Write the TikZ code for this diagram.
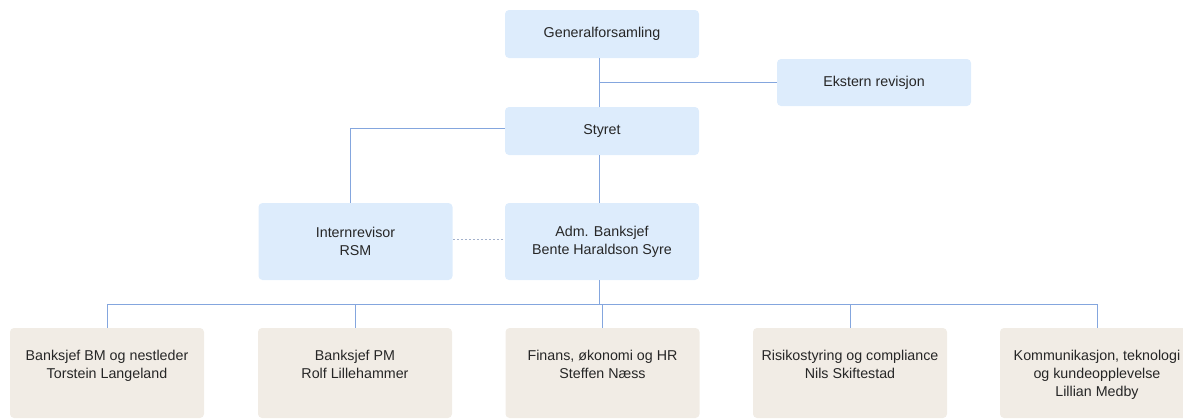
\documentclass[tikz,border=0pt]{standalone}
\usepackage{fontspec}
\setmainfont{Liberation Sans}
\definecolor{boxblue}{HTML}{DDECFC}
\definecolor{boxsand}{HTML}{F1ECE5}
\definecolor{linkblue}{HTML}{84A6DE}
\definecolor{dotgrey}{HTML}{A3B1CB}
\definecolor{txt}{HTML}{262626}
\tikzset{
  upbox/.style={fill=boxblue, rounded corners=3pt, minimum width=145.5pt,
    minimum height=36pt, align=center, inner sep=0pt, text=txt},
  midbox/.style={upbox, minimum height=57.75pt},
  lowbox/.style={fill=boxsand, rounded corners=3pt, minimum width=145.5pt,
    minimum height=67.5pt, inner sep=0pt},
  lowtext/.style={anchor=north, align=center, inner sep=0pt, text=txt},
  link/.style={draw=linkblue, line width=0.75pt},
}
\begin{document}
\begin{tikzpicture}[x=0.75pt, y=-0.75pt, font=\fontsize{10.7}{13.5}\selectfont]
      \clip (0,0) rectangle (1183,419);
      \useasboundingbox (0,0) rectangle (1183,419);
      \draw
        (602,34) node[upbox] (gen){Generalforsamling}
        (874,82.5) node[upbox, minimum height=35.25pt] (ekst){Ekstern revisjon}
        (602,131) node[upbox] (styret){Styret}
        (355.5,241.5) node[midbox] (intern){Internrevisor\\RSM}
        (602,241.5) node[midbox] (adm){Adm. Banksjef\\Bente Haraldson Syre};
      \draw
        (107,373) node[lowbox] (b1){}
        (355,373) node[lowbox] (b2){}
        (602.5,373) node[lowbox] (b3){}
        (850,373) node[lowbox] (b4){}
        (1097,373) node[lowbox] (b5){};
      \draw
        (107,350) node[lowtext] (t1){Banksjef BM og nestleder\\Torstein Langeland}
        (355,350) node[lowtext] (t2){Banksjef PM\\Rolf Lillehammer}
        (602.5,350) node[lowtext] (t3){Finans, økonomi og HR\\Steffen Næss}
        (850,350) node[lowtext] (t4){Risikostyring og compliance\\Nils Skiftestad}
        (1097,350) node[lowtext] (t5){Kommunikasjon, teknologi\\og kundeopplevelse\\Lillian Medby};
      \coordinate (bus) at (599,304);
      \coordinate (gate) at (350,128);
      \begin{scope}[link]
        \draw (gen.south -| bus) to (styret.north -| bus);
        \draw (ekst.west) to (ekst.west -| bus);
        \draw (styret.west |- gate) to (gate) to (gate |- intern.north);
        \draw (styret.south -| bus) to (adm.north -| bus);
        \draw (adm.south -| bus) to (bus);
        \draw (b1.north |- bus) to (b5.north |- bus);
        \draw (b1.north |- bus) to (b1.north);
        \draw (b2.north |- bus) to (b2.north);
        \draw (b3.north |- bus) to (b3.north);
        \draw (b4.north |- bus) to (b4.north);
        \draw (b5.north |- bus) to (b5.north);
      \end{scope}
      \draw[dotgrey, line width=0.75pt, dash pattern=on 1.5pt off 1.5pt]
        ([yshift=1.5pt]intern.east) to ([yshift=1.5pt]adm.west);
    \end{tikzpicture}
\end{document}
